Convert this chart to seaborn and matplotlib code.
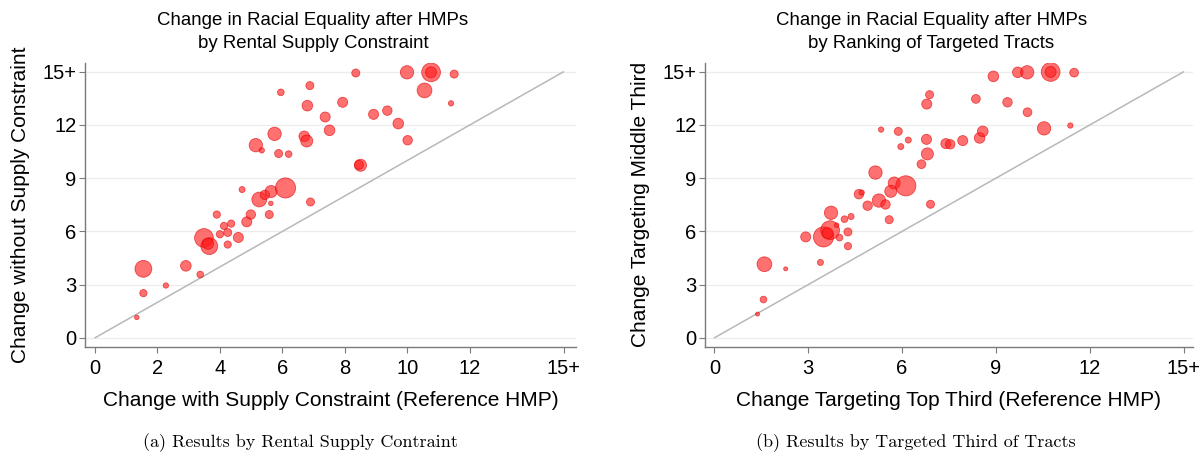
import numpy as np
import pandas as pd
import matplotlib
matplotlib.use("Agg")
import matplotlib.pyplot as plt
import seaborn as sns

# Panel (a): change with supply constraint vs without (15 = "15+")
a_x = [1.34, 1.55, 2.27, 1.55, 2.91, 3.37, 3.49, 3.66, 3.62, 4.25, 4.00, 4.25, 4.59,
       4.13, 4.36, 4.86, 3.90, 4.99, 5.58, 4.71, 5.26, 5.44, 5.64, 5.63, 6.10, 6.90,
       5.15, 5.34, 5.88, 6.20, 5.75, 5.95, 6.70, 6.78, 6.80, 6.88, 7.51, 7.37, 7.93,
       8.35, 8.50, 8.45, 8.92, 9.36, 9.71, 10.01, 9.99, 10.55, 10.76, 10.76, 11.50, 11.40]
a_y = [1.15, 2.52, 2.95, 3.89, 4.06, 3.57, 5.63, 5.17, 5.30, 5.26, 5.84, 5.94, 5.66,
       6.31, 6.44, 6.54, 6.95, 6.95, 6.95, 8.36, 7.80, 8.06, 8.25, 7.58, 8.45, 7.66,
       10.86, 10.57, 10.39, 10.36, 11.50, 13.84, 11.36, 11.10, 13.09, 14.22, 11.70, 12.45, 13.28,
       14.93, 9.73, 9.75, 12.60, 12.81, 12.08, 11.14, 14.97, 13.95, 14.97, 14.97, 14.87, 13.22]
a_w = [5, 13, 7, 70, 28, 11, 87, 70, 30, 13, 13, 16, 25,
       13, 13, 25, 13, 22, 16, 9, 54, 22, 36, 5, 100, 16,
       44, 7, 16, 11, 44, 11, 28, 36, 28, 16, 28, 25, 25,
       16, 36, 20, 25, 22, 28, 22, 44, 54, 87, 30, 16, 7]

# Panel (b): targeting top third vs middle third
b_x = [1.38, 1.57, 1.60, 2.28, 3.39, 2.92, 3.49, 3.70, 3.62, 3.73, 4.00, 4.27, 4.27,
       3.91, 4.16, 4.37, 4.62, 4.71, 4.90, 5.26, 5.47, 5.59, 5.15, 5.75, 5.64, 6.12,
       6.91, 6.62, 6.81, 5.96, 6.20, 5.88, 5.33, 6.78, 6.79, 6.88, 7.40, 7.54, 7.94,
       8.48, 8.58, 8.36, 8.92, 9.37, 9.70, 10.00, 10.75, 10.75, 11.50, 10.01, 10.54, 11.38]
b_y = [1.34, 2.16, 4.15, 3.89, 4.25, 5.69, 5.69, 6.07, 5.90, 7.05, 5.65, 5.97, 5.17,
       6.35, 6.69, 6.84, 8.10, 8.19, 7.45, 7.74, 7.52, 6.66, 9.32, 8.73, 8.26, 8.57,
       7.53, 9.79, 10.37, 10.78, 11.15, 11.64, 11.74, 11.19, 13.18, 13.71, 10.95, 10.91, 11.12,
       11.27, 11.64, 13.47, 14.74, 13.28, 14.97, 14.97, 14.99, 14.99, 14.95, 12.72, 11.81, 11.97]
b_w = [4, 11, 54, 4, 9, 25, 100, 87, 30, 44, 11, 16, 13,
       5, 11, 9, 22, 7, 22, 44, 22, 16, 44, 36, 36, 100,
       16, 19, 36, 9, 9, 16, 7, 25, 25, 16, 25, 22, 25,
       28, 28, 19, 28, 22, 28, 44, 87, 30, 19, 19, 44, 7]

ticks_a = [0, 2, 4, 6, 8, 10, 12, 15]
ticks_b = [0, 3, 6, 9, 12, 15]
y_ticks = [0, 3, 6, 9, 12, 15]

sns.set_style("white")
plt.rcParams['font.family'] = ['Liberation Sans', 'DejaVu Sans']
plt.rcParams['text.color'] = 'black'
plt.rcParams['axes.labelcolor'] = 'black'
plt.rcParams['xtick.labelcolor'] = 'black'
plt.rcParams['ytick.labelcolor'] = 'black'

fig = plt.figure(figsize=(12.02, 4.66), dpi=100)
ax1 = fig.add_axes([0.0707, 0.256, 0.4085, 0.609])
ax2 = fig.add_axes([0.5865, 0.256, 0.406, 0.609])

panels = [
    (ax1, a_x, a_y, a_w, ticks_a,
     "Change in Racial Equality after HMPs\nby Rental Supply Constraint",
     "Change with Supply Constraint (Reference HMP)",
     "Change without Supply Constraint", (-0.32, 15.4)),
    (ax2, b_x, b_y, b_w, ticks_b,
     "Change in Racial Equality after HMPs\nby Ranking of Targeted Tracts",
     "Change Targeting Top Third (Reference HMP)",
     "Change Targeting Middle Third", (-0.3, 15.3)),
]

for ax, xs, ys, ws, xt, title, xlab, ylab, xlim in panels:
    df = pd.DataFrame({"x": xs, "y": ys, "w": ws})
    ax.set_xlim(*xlim)
    ax.set_ylim(-0.5, 15.5)
    ax.yaxis.grid(True, color='#ececec', lw=0.9)
    ax.xaxis.grid(False)
    ax.set_axisbelow(True)
    ax.plot([0, 15], [0, 15], color='#b8b8b8', lw=1.1, zorder=1)
    sns.scatterplot(data=df, x="x", y="y", size="w", sizes=(0, 210),
                    size_norm=(0, 100), color='#ff1a1a', alpha=0.62,
                    edgecolor='#e00000', linewidth=0.6, legend=False, ax=ax, zorder=3)
    ax.set_xticks(xt)
    ax.set_xticklabels([str(t) if t < 15 else "15+" for t in xt])
    ax.set_yticks(y_ticks)
    ax.set_yticklabels([str(t) if t < 15 else "15+" for t in y_ticks])
    for s in ["top", "right"]:
        ax.spines[s].set_visible(False)
    for s in ["left", "bottom"]:
        ax.spines[s].set_color('#7a7a7a')
        ax.spines[s].set_linewidth(1.0)
    ax.tick_params(direction='out', length=4, width=0.8, color='#7a7a7a',
                   labelsize=14.5, pad=2, left=True, bottom=True)
    ax.tick_params(axis='x', pad=5)
    ax.set_title(title, fontsize=13.4, pad=11, linespacing=1.45, x=0.464)
    ax.set_xlabel(xlab, fontsize=15, labelpad=9)
    ax.set_ylabel(ylab, fontsize=15, labelpad=9)

fig.text(300 / 1202, 1 - 443 / 466, "(a) Results by Rental Supply Contraint",
         family='cmr10', fontsize=13, ha='center', va='center')
fig.text(916 / 1202, 1 - 443 / 466, "(b) Results by Targeted Third of Tracts",
         family='cmr10', fontsize=13, ha='center', va='center')

fig.savefig("out.png", dpi=100)
